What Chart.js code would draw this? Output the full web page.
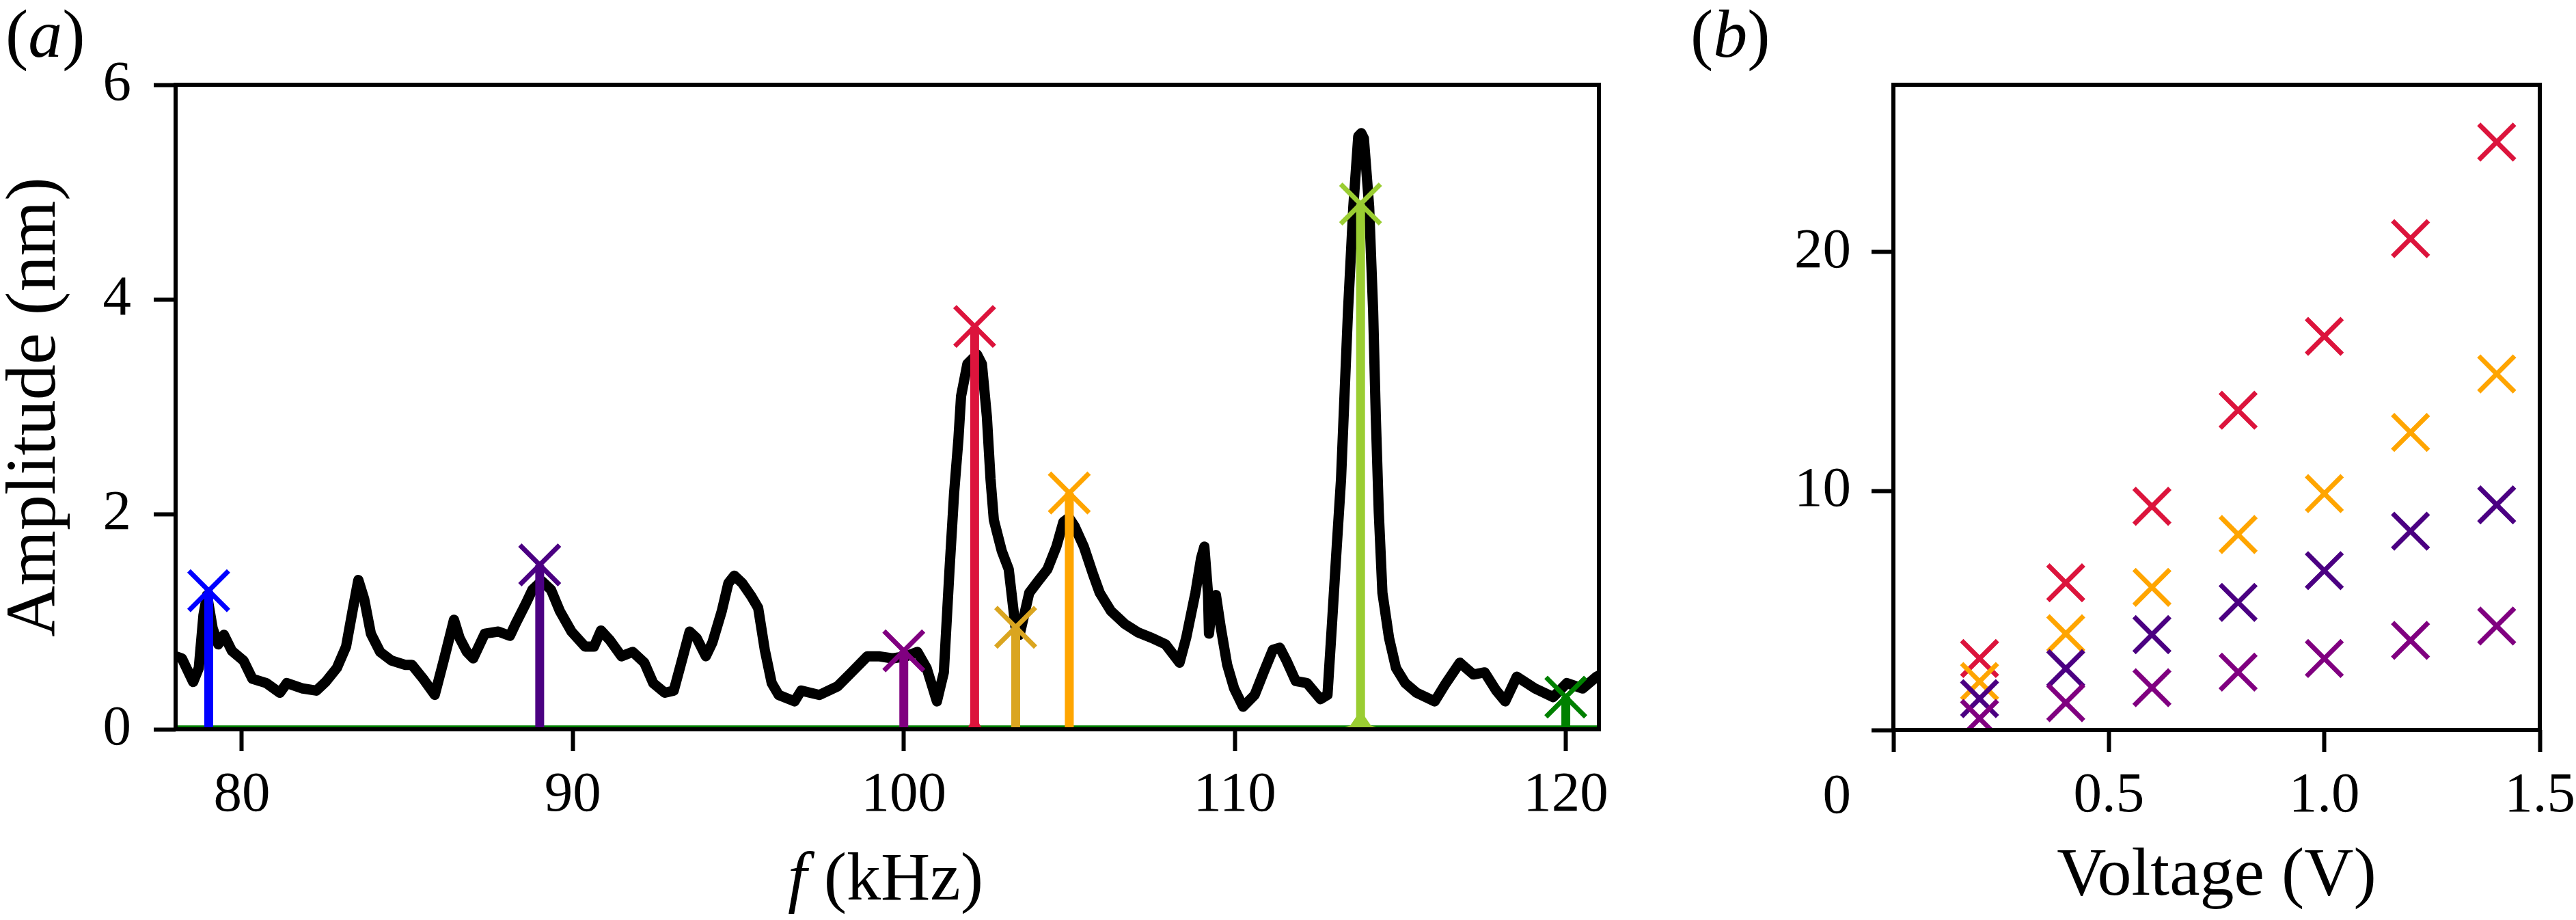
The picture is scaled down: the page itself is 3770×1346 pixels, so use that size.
<!DOCTYPE html>
<html>
<head>
<meta charset="utf-8">
<title>Spectrum peaks and amplitude versus voltage</title>
<script src="https://cdn.jsdelivr.net/npm/chart.js@4"></script>
<style>
  html, body { margin: 0; padding: 0; background: #fff; }
  #page { position: relative; width: 3770px; height: 1346px; overflow: hidden;
          font-family: 'Liberation Serif', 'DejaVu Serif', serif; color: #000; }
  canvas { position: absolute; top: 0; }
  #chartA { left: 0; }
  #chartB { left: 2420px; }
  .lbl { position: absolute; font-size: 100px; line-height: 100px; white-space: nowrap; }
</style>
</head>
<body>
<div id="page">
  <canvas id="chartA" width="2420" height="1346"></canvas>
  <canvas id="chartB" width="1350" height="1346"></canvas>
  <div class="lbl" style="left:8px; top:0">(<i>a</i>)</div>
  <div class="lbl" style="left:2474px; top:0">(<i>b</i>)</div>
  <div class="lbl" style="left:1296px; top:1233px; transform:translateX(-50%)"><i>f</i> (kHz)</div>
</div>

<script>
// ---- panel (a): measured spectrum (kHz, nm) ----
const specFreq = [78.00, 78.19, 78.53, 78.70, 78.84, 78.95, 79.12, 79.29, 79.46, 79.70,
  80.05, 80.32, 80.74, 81.15, 81.36, 81.84, 82.25, 82.53, 82.87, 83.15,
  83.35, 83.52, 83.70, 83.90, 84.18, 84.52, 84.93, 85.14, 85.48, 85.83,
  86.10, 86.41, 86.58, 86.80, 86.99, 87.34, 87.75, 88.10, 88.30, 88.58,
  88.78, 89.06, 89.34, 89.61, 89.96, 90.37, 90.64, 90.85, 91.12, 91.47,
  91.81, 92.16, 92.43, 92.78, 93.05, 93.33, 93.53, 93.74, 94.02, 94.22,
  94.50, 94.70, 94.88, 95.12, 95.39, 95.60, 95.80, 96.01, 96.22, 96.70,
  96.90, 97.45, 98.00, 98.42, 98.90, 99.24, 99.66, 100.07, 100.41, 100.69,
  101.00, 101.21, 101.38, 101.52, 101.65, 101.73, 101.92, 102.21, 102.36, 102.51,
  102.62, 102.72, 102.96, 103.17, 103.37, 103.50, 103.79, 104.06, 104.34, 104.61,
  104.82, 104.99, 105.16, 105.44, 105.71, 105.92, 106.26, 106.68, 107.09, 107.50,
  107.91, 108.33, 108.53, 108.81, 108.98, 109.08, 109.19, 109.22, 109.33, 109.43,
  109.57, 109.77, 109.98, 110.25, 110.60, 110.87, 111.15, 111.36, 111.56, 111.84,
  112.18, 112.59, 112.80, 112.94, 113.08, 113.21, 113.30, 113.42, 113.58, 113.73,
  113.82, 113.90, 114.06, 114.18, 114.26, 114.35, 114.46, 114.66, 114.87, 115.15,
  115.49, 116.04, 116.38, 116.80, 117.21, 117.55, 117.90, 118.17, 118.52, 119.07,
  119.62, 120.03, 120.51, 120.93, 121.00];
const specAmp = [0.68, 0.66, 0.44, 0.57, 1.06, 1.25, 0.94, 0.79, 0.88, 0.73,
  0.64, 0.47, 0.43, 0.34, 0.43, 0.38, 0.36, 0.44, 0.57, 0.77,
  1.11, 1.39, 1.21, 0.89, 0.72, 0.64, 0.60, 0.60, 0.47, 0.32,
  0.64, 1.02, 0.85, 0.72, 0.66, 0.89, 0.91, 0.87, 1.00, 1.17,
  1.30, 1.38, 1.30, 1.10, 0.91, 0.77, 0.77, 0.92, 0.83, 0.68,
  0.72, 0.62, 0.43, 0.34, 0.36, 0.68, 0.91, 0.85, 0.68, 0.81,
  1.10, 1.36, 1.43, 1.36, 1.24, 1.13, 0.74, 0.43, 0.32, 0.26,
  0.36, 0.32, 0.40, 0.53, 0.68, 0.68, 0.66, 0.68, 0.72, 0.57,
  0.26, 0.53, 1.48, 2.20, 2.70, 3.10, 3.40, 3.49, 3.40, 2.91,
  2.33, 1.95, 1.66, 1.49, 0.96, 0.88, 1.27, 1.38, 1.49, 1.70,
  1.93, 1.97, 1.89, 1.70, 1.45, 1.27, 1.10, 0.98, 0.90, 0.85,
  0.79, 0.62, 0.85, 1.27, 1.59, 1.70, 1.27, 0.89, 1.21, 1.25,
  0.96, 0.60, 0.38, 0.21, 0.32, 0.53, 0.74, 0.76, 0.64, 0.45,
  0.43, 0.28, 0.32, 1.00, 1.70, 2.33, 3.00, 3.89, 4.86, 5.52,
  5.55, 5.50, 4.86, 3.89, 2.91, 2.02, 1.27, 0.85, 0.57, 0.43,
  0.34, 0.26, 0.43, 0.62, 0.51, 0.53, 0.36, 0.26, 0.49, 0.38,
  0.30, 0.43, 0.38, 0.49, 0.50];

// fitted modes: centre frequency (kHz) and peak amplitude (nm)
const modeFreq = [79.0, 89.0, 100.0, 102.14, 103.38, 105.0, 113.8, 120.0];
const modeAmp = [1.29, 1.53, 0.73, 3.75, 0.95, 2.20, 4.89, 0.30];
const modeColor = ['#0000ff', '#4b0082', '#800080', '#dc143c', '#daa520', '#ffa500', '#9acd32', '#008000'];

// base of the two sharp fitted peaks
const redBaseF = [101.85, 101.97, 102.03, 102.14, 102.25, 102.31, 102.43];
const redBaseA = [0, 0.02, 0.06, 0.30, 0.06, 0.02, 0];
const ygBaseF = [113.0, 113.3, 113.5, 113.7, 113.8, 113.9, 114.1, 114.3, 114.6];
const ygBaseA = [0, 0.01, 0.03, 0.12, 0.40, 0.12, 0.03, 0.01, 0];
// tail of the 120 kHz mode along the bottom
const greenTailF = [78, 121];
const greenTailA = [0.02, 0.02];

const aXTicks = [80, 90, 100, 110, 120];
const aYTicks = [0, 2, 4, 6];

// ---- panel (b): amplitude versus drive voltage ----
const voltage = [0.2, 0.4, 0.6, 0.8, 1.0, 1.2, 1.4];
const ampCrimson = [2.99, 6.16, 9.36, 13.38, 16.47, 20.56, 24.6];
const ampOrange = [2.03, 4.03, 5.97, 8.18, 9.89, 12.45, 14.9];
const ampIndigo = [1.31, 2.57, 3.99, 5.34, 6.67, 8.32, 9.42];
const ampPurple = [0.48, 1.14, 1.77, 2.42, 2.99, 3.75, 4.35];

const bXTicks = [0, 0.5, 1.0, 1.5];
const bYTicks = [0, 10, 20];

const serif = "'Liberation Serif', 'DejaVu Serif', serif";
Chart.defaults.font.family = serif;
Chart.defaults.color = '#000';

const pts = (xs, ys) => xs.map((x, i) => ({ x: x, y: ys[i] }));

// box around the plot area (matplotlib style spines)
const frame = {
  id: 'frame',
  afterDatasetsDraw(chart) {
    const { ctx, chartArea: a } = chart;
    ctx.save();
    ctx.strokeStyle = '#000';
    ctx.lineWidth = 6;
    ctx.strokeRect(a.left, a.top, a.right - a.left, a.bottom - a.top);
    ctx.restore();
  }
};

function tickGrid() {
  return { drawOnChartArea: false, drawTicks: true, tickLength: 32, tickWidth: 6, tickColor: '#000' };
}

// ---- chart (a) ----
const aSets = [];
aSets.push({
  label: 'Spectrum',
  data: pts(specFreq, specAmp),
  borderColor: '#000',
  borderWidth: 15,
  borderJoinStyle: 'round',
  borderCapStyle: 'round',
  pointRadius: 0,
  order: 10
});
aSets.push({
  label: 'Tail',
  data: pts(greenTailF, greenTailA),
  borderColor: '#008000',
  borderWidth: 5,
  pointRadius: 0,
  order: 6
});
aSets.push({
  label: 'Red base',
  data: pts(redBaseF, redBaseA),
  borderColor: '#dc143c',
  backgroundColor: '#dc143c',
  borderWidth: 2,
  fill: 'origin',
  pointRadius: 0,
  order: 5
});
aSets.push({
  label: 'Yellowgreen base',
  data: pts(ygBaseF, ygBaseA),
  borderColor: '#9acd32',
  backgroundColor: '#9acd32',
  borderWidth: 2,
  fill: 'origin',
  pointRadius: 0,
  order: 5
});
modeFreq.forEach((f, i) => {
  aSets.push({
    label: 'Mode ' + f,
    data: [{ x: f, y: 0 }, { x: f, y: modeAmp[i] }],
    borderColor: modeColor[i],
    borderWidth: 13,
    borderCapStyle: 'butt',
    pointRadius: 0,
    order: 4
  });
});
aSets.push({
  label: 'Peaks',
  data: pts(modeFreq, modeAmp),
  showLine: false,
  pointStyle: 'crossRot',
  pointRadius: 41,
  pointBorderWidth: 7,
  pointBorderColor: modeColor,
  pointBackgroundColor: modeColor,
  order: 0
});

new Chart(document.getElementById('chartA'), {
  type: 'line',
  data: { datasets: aSets },
  options: {
    responsive: false,
    animation: false,
    layout: { padding: { top: 124, right: 80, bottom: 0, left: 0 } },
    plugins: { legend: { display: false }, tooltip: { enabled: false } },
    scales: {
      x: {
        type: 'linear',
        min: 78,
        max: 121,
        afterBuildTicks: s => { s.ticks = aXTicks.map(v => ({ value: v })); },
        afterFit: s => { s.height = 279; s.paddingLeft = 0; s.paddingRight = 0; },
        grid: tickGrid(),
        border: { display: false },
        ticks: { font: { size: 83 }, padding: 15, maxRotation: 0, autoSkip: false }
      },
      y: {
        type: 'linear',
        min: 0,
        max: 6,
        afterBuildTicks: s => { s.ticks = aYTicks.map(v => ({ value: v })); },
        afterFit: s => { s.width = 257; s.paddingTop = 0; s.paddingBottom = 0; },
        grid: tickGrid(),
        border: { display: false },
        ticks: { font: { size: 83 }, padding: 33 },
        title: { display: true, text: 'Amplitude (nm)', font: { size: 104 }, padding: { top: -10, bottom: 0 } }
      }
    }
  },
  plugins: [frame]
});

// ---- chart (b) ----
function crossSet(label, ys, color, order) {
  return {
    label: label,
    data: pts(voltage, ys),
    showLine: false,
    pointStyle: 'crossRot',
    pointRadius: 37,
    pointBorderWidth: 7,
    borderColor: color,
    backgroundColor: color,
    order: order
  };
}

new Chart(document.getElementById('chartB'), {
  type: 'scatter',
  data: {
    datasets: [
      crossSet('crimson', ampCrimson, '#dc143c', 4),
      crossSet('orange', ampOrange, '#ffa500', 3),
      crossSet('indigo', ampIndigo, '#4b0082', 2),
      crossSet('purple', ampPurple, '#800080', 1)
    ]
  },
  options: {
    responsive: false,
    animation: false,
    layout: { padding: { top: 124, right: 53, bottom: 0, left: 0 } },
    plugins: { legend: { display: false }, tooltip: { enabled: false } },
    scales: {
      x: {
        type: 'linear',
        min: 0,
        max: 1.5,
        afterBuildTicks: s => { s.ticks = bXTicks.map(v => ({ value: v })); },
        afterFit: s => { s.height = 278; s.paddingLeft = 0; s.paddingRight = 0; },
        grid: tickGrid(),
        border: { display: false },
        ticks: {
          font: { size: 83 }, padding: 15, maxRotation: 0, autoSkip: false,
          callback: v => (v === 0 ? '' : v.toFixed(1))
        },
        title: { display: true, text: 'Voltage (V)', font: { size: 100 }, padding: { top: 0, bottom: 3 } }
      },
      y: {
        type: 'linear',
        min: 0,
        max: 27,
        afterBuildTicks: s => { s.ticks = bYTicks.map(v => ({ value: v })); },
        afterFit: s => { s.width = 351; s.paddingTop = 0; s.paddingBottom = 0; },
        grid: tickGrid(),
        border: { display: false },
        // the zero label sits one line lower, level with the x labels
        ticks: { font: { size: 83 }, padding: 30, callback: v => (v === 0 ? ['', '', '0'] : String(v)) }
      }
    }
  },
  plugins: [frame]
});
</script>
</body>
</html>
